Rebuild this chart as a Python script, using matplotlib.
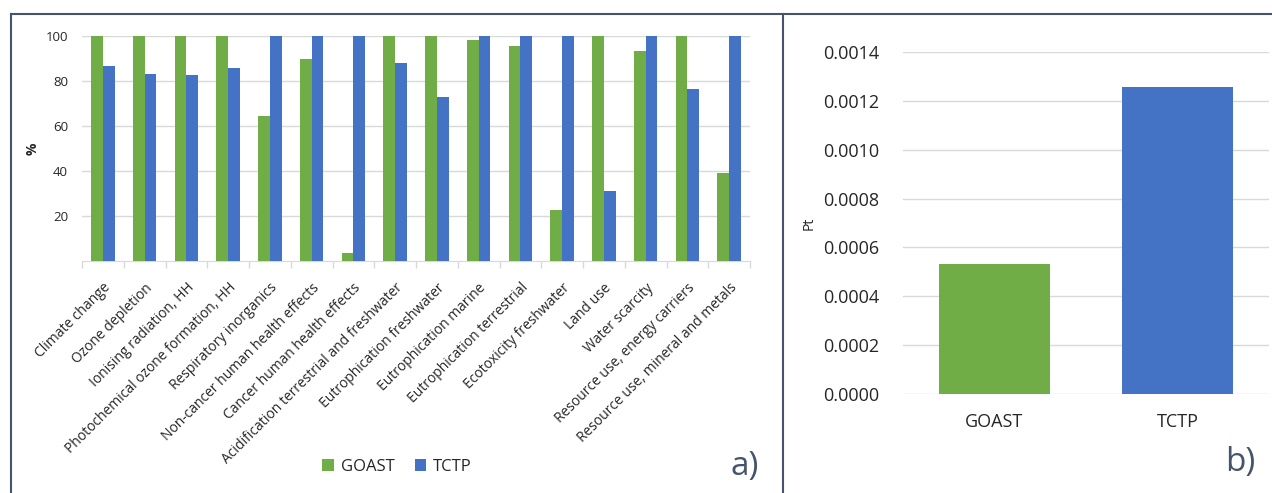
import numpy as np
import matplotlib
matplotlib.use("Agg")
import matplotlib.pyplot as plt
from matplotlib.lines import Line2D

plt.rcParams['font.family'] = ['Open Sans', 'DejaVu Sans']

categories = [
    "Climate change", "Ozone depletion", "Ionising radiation, HH",
    "Photochemical ozone formation, HH", "Respiratory inorganics",
    "Non-cancer human health effects", "Cancer human health effects",
    "Acidification terrestrial and freshwater", "Eutrophication freshwater",
    "Eutrophication marine", "Eutrophication terrestrial",
    "Ecotoxicity freshwater", "Land use", "Water scarcity",
    "Resource use, energy carriers", "Resource use, mineral and metals",
]
goast_pct = [100, 100, 100, 100, 64.6, 90.0, 3.6, 100, 100, 98.4, 95.7,
             22.6, 100, 93.2, 100, 39.1]
tctp_pct = [86.6, 83.3, 82.6, 85.7, 100, 100, 100, 88.2, 72.9, 100, 100,
            100, 31.1, 100, 76.5, 100]

systems = ["GOAST", "TCTP"]
single_score = [0.000533, 0.001257]

GREEN = "#70AD47"
BLUE = "#4472C4"
GRID = "#d9d9d9"
FRAME = "#44546a"
TXT = "#262626"

fig = plt.figure(figsize=(12.72, 4.93), dpi=100)

# ---- panel a) ----
ax1 = fig.add_axes([82 / 1272, 1 - 261 / 493, 668 / 1272, 225 / 493])
x = np.arange(len(categories))
w = 0.28
ax1.bar(x - w / 2, goast_pct, w, color=GREEN, label="GOAST", zorder=3)
ax1.bar(x + w / 2, tctp_pct, w, color=BLUE, label="TCTP", zorder=3)
ax1.set_xlim(-0.5, len(categories) - 0.5)
ax1.set_ylim(0, 100)
ax1.set_yticks([20, 40, 60, 80, 100])
ax1.yaxis.grid(True, color=GRID, lw=1, zorder=0)
for s in ["top", "right", "left"]:
    ax1.spines[s].set_visible(False)
ax1.spines["bottom"].set_color(GRID)
ax1.tick_params(axis="y", length=0, labelsize=9.5, colors=TXT, pad=10)
ax1.set_xticks(x)
ax1.set_xticklabels(categories, rotation=45, ha="right", rotation_mode="anchor",
                    fontsize=10, color=TXT)
ax1.tick_params(axis="x", length=0, pad=14)
ax1.set_xticks(np.arange(-0.5, len(categories)), minor=True)
ax1.tick_params(axis="x", which="minor", length=5, color=GRID, width=1)
ax1.set_ylabel("%", fontsize=10, fontweight="bold", color=TXT, labelpad=4)
leg = ax1.legend(loc="center", bbox_to_anchor=(397 / 1272, 1 - 467 / 493),
                 bbox_transform=fig.transFigure, ncol=2, frameon=False,
                 fontsize=12, handlelength=0.7, handleheight=0.7,
                 columnspacing=1.2, handletextpad=0.4)
for t in leg.get_texts():
    t.set_color(TXT)

# ---- panel b) ----
ax2 = fig.add_axes([903 / 1272, 1 - 394 / 493, 366 / 1272, 342 / 493])
xb = np.arange(len(systems))
ax2.bar(xb, single_score, 0.61, color=[GREEN, BLUE], zorder=3)
ax2.set_xlim(-0.5, 1.5)
ax2.set_ylim(0, 0.0014)
ax2.set_yticks(np.arange(0, 0.00141, 0.0002))
ax2.set_yticklabels([f"{v:.4f}" for v in np.arange(0, 0.00141, 0.0002)])
ax2.yaxis.grid(True, color=GRID, lw=1, zorder=0)
for s in ["top", "right", "left", "bottom"]:
    ax2.spines[s].set_visible(False)
ax2.set_xticks(xb)
ax2.set_xticklabels(systems)
ax2.tick_params(axis="y", length=0, labelsize=13, colors=TXT, pad=17)
ax2.tick_params(axis="x", length=0, labelsize=13, colors=TXT, pad=14)
ax2.set_ylabel("Pt", fontsize=10, color=TXT, labelpad=5)

# panel letters
fig.text(745 / 1272, 1 - 467 / 493, "a)", fontsize=24, color=FRAME,
         ha="center", va="center")
fig.text(1240 / 1272, 1 - 463 / 493, "b)", fontsize=24, color=FRAME,
         ha="center", va="center")

# frame lines around the panels
for xs, ys in [((11 / 1272, 1), (1 - 14 / 493, 1 - 14 / 493)),
               ((11 / 1272, 11 / 1272), (1 - 14 / 493, 0)),
               ((783 / 1272, 783 / 1272), (1 - 14 / 493, 0))]:
    fig.add_artist(Line2D(xs, ys, color=FRAME, lw=1.5, transform=fig.transFigure))

fig.savefig("out.png", dpi=100)
